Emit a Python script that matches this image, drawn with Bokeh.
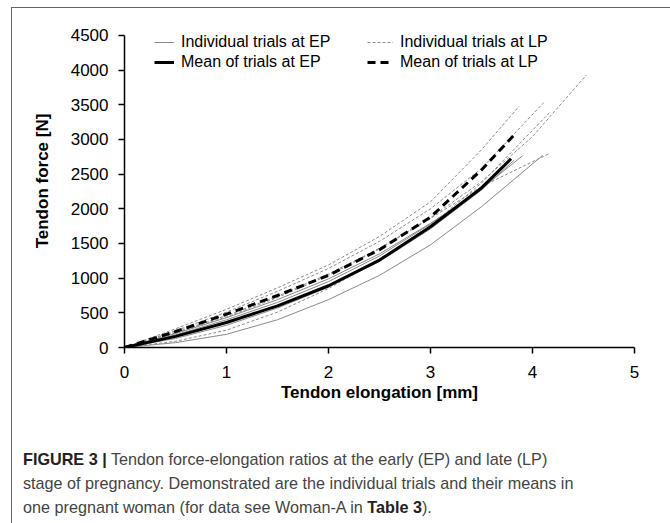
from bokeh.plotting import figure
from bokeh.models import FixedTicker, Legend, LegendItem, Div, Range1d
from bokeh.layouts import column
from bokeh.embed import file_html
from bokeh.resources import INLINE

# ---- data ----
x_ticks = [0, 1, 2, 3, 4, 5]
y_ticks = [0, 500, 1000, 1500, 2000, 2500, 3000, 3500, 4000, 4500]

# individual trials at early pregnancy (EP)
ep1_x = [0, 0.5, 1, 1.5, 2, 2.5, 3, 3.5, 4.1]
ep1_f = [0, 70, 190, 400, 690, 1040, 1480, 2030, 2770]
ep2_x = [0, 0.5, 1, 1.5, 2, 2.5, 3, 3.5, 3.9]
ep2_f = [0, 180, 400, 650, 950, 1320, 1780, 2290, 2760]
ep3_x = [0, 0.5, 1, 1.5, 2, 2.5, 3, 3.5, 3.82]
ep3_f = [0, 130, 320, 570, 870, 1240, 1710, 2270, 2700]
ep4_x = [0, 0.5, 1, 1.5, 2, 2.5, 3, 3.5, 3.75]
ep4_f = [0, 200, 430, 690, 990, 1350, 1790, 2280, 2640]

# individual trials at late pregnancy (LP)
lp1_x = [0, 0.5, 1, 1.5, 2, 2.5, 3, 3.5, 3.87]
lp1_f = [0, 270, 550, 860, 1190, 1600, 2100, 2850, 3480]
lp2_x = [0, 0.5, 1, 1.5, 2, 2.5, 3, 3.5, 4.11]
lp2_f = [0, 240, 510, 810, 1140, 1530, 2000, 2580, 3530]
lp3_x = [0, 0.5, 1, 1.5, 2, 2.5, 3, 3.5, 4, 4.53]
lp3_f = [0, 220, 460, 740, 1060, 1430, 1870, 2390, 3040, 3930]
lp4_x = [0, 0.5, 1, 1.5, 2, 2.5, 3, 3.5, 4.17]
lp4_f = [0, 90, 250, 510, 850, 1260, 1760, 2370, 3390]
lp5_x = [0, 0.5, 1, 1.5, 2, 2.5, 3, 3.5, 4.17]
lp5_f = [0, 210, 440, 720, 1040, 1420, 1860, 2320, 2800]

# means
mean_ep_x = [0, 0.5, 1, 1.5, 2, 2.5, 3, 3.5, 3.79]
mean_ep_f = [0, 160, 360, 600, 890, 1260, 1740, 2300, 2720]
mean_lp_x = [0, 0.5, 1, 1.5, 2, 2.5, 3, 3.5, 3.83]
mean_lp_f = [0, 230, 480, 750, 1040, 1410, 1880, 2560, 3080]

ep_trials = [(ep1_x, ep1_f), (ep2_x, ep2_f), (ep3_x, ep3_f), (ep4_x, ep4_f)]
lp_trials = [(lp1_x, lp1_f), (lp2_x, lp2_f), (lp3_x, lp3_f), (lp4_x, lp4_f), (lp5_x, lp5_f)]

FONT = "Liberation Sans"

p = figure(width=655, height=434,
           x_range=Range1d(0, 5), y_range=Range1d(0, 4800),
           output_backend="svg", toolbar_location=None,
           min_border_left=112, min_border_right=33,
           min_border_top=6, min_border_bottom=95)
p.outline_line_color = None
p.grid.grid_line_color = None
p.background_fill_color = "white"
p.border_fill_color = "white"

ep_rs = []
for xs, fs in ep_trials:
    ep_rs.append(p.line(xs, fs, line_color="#8a8a8a", line_width=1))
lp_rs = []
for xs, fs in lp_trials:
    lp_rs.append(p.line(xs, fs, line_color="#8a8a8a", line_width=1, line_dash="3 2"))
r_mean_ep = p.line(mean_ep_x, mean_ep_f, line_color="black", line_width=3)
r_mean_lp = p.line(mean_lp_x, mean_lp_f, line_color="black", line_width=3, line_dash="8 5")

for ax in (p.xaxis[0], p.yaxis[0]):
    ax.axis_line_width = 1.5
    ax.axis_line_color = "black"
    ax.major_tick_line_color = "black"
    ax.major_tick_line_width = 1.5
    ax.major_tick_out = 6
    ax.major_tick_in = 0
    ax.minor_tick_line_color = None
    ax.major_label_text_font = FONT
    ax.major_label_text_font_size = "17px"
    ax.major_label_text_color = "black"
    ax.axis_label_text_font = FONT
    ax.axis_label_text_font_size = "17px"
    ax.axis_label_text_font_style = "bold"
    ax.axis_label_text_color = "black"

p.xaxis.ticker = FixedTicker(ticks=x_ticks)
p.yaxis.ticker = FixedTicker(ticks=y_ticks)
p.yaxis.bounds = (0, 4500)
p.xaxis.axis_label = "Tendon elongation [mm]"
p.yaxis.axis_label = "Tendon force [N]"
p.xaxis.major_label_standoff = 12
p.xaxis.axis_label_standoff = 2
p.yaxis.major_label_standoff = 10
p.yaxis.axis_label_standoff = 16

def make_legend(items, loc, glyph_w):
    lg = Legend(items=items, location=loc, orientation="vertical")
    lg.background_fill_alpha = 0
    lg.border_line_color = None
    lg.padding = 0
    lg.margin = 0
    lg.spacing = 2
    lg.glyph_width = glyph_w
    lg.glyph_height = 16
    lg.label_height = 16
    lg.label_standoff = 7
    lg.label_text_font = FONT
    lg.label_text_font_size = "16px"
    lg.label_text_color = "black"
    return lg

leg1 = make_legend([LegendItem(label="Individual trials at EP", renderers=[ep_rs[0]]),
                    LegendItem(label="Mean of trials at EP", renderers=[r_mean_ep])], (30, 276), 20)
leg2 = make_legend([LegendItem(label="Individual trials at LP", renderers=[lp_rs[0]]),
                    LegendItem(label="Mean of trials at LP", renderers=[r_mean_lp])], (243, 276), 26)
p.add_layout(leg1)
p.add_layout(leg2)

caption = Div(
    text=("<b style='color:#222'>FIGURE 3 |</b> Tendon force-elongation ratios at the early (EP) and late (LP)<br>"
          "stage of pregnancy. Demonstrated are the individual trials and their means in<br>"
          "one pregnant woman (for data see Woman-A in <b style='color:#222'>Table 3</b>)."),
    width=650, height=78,
    styles={"font-family": FONT, "font-size": "16.2px", "line-height": "24px",
            "color": "#444", "padding-left": "6px", "box-sizing": "border-box",
            "white-space": "nowrap"})

layout = column(p, caption, spacing=0,
                styles={"border-left": "1px solid #666", "border-top": "1px solid #666",
                        "margin-left": "11px", "margin-top": "7px"})

open("out.html", "w").write(file_html(layout, INLINE))
